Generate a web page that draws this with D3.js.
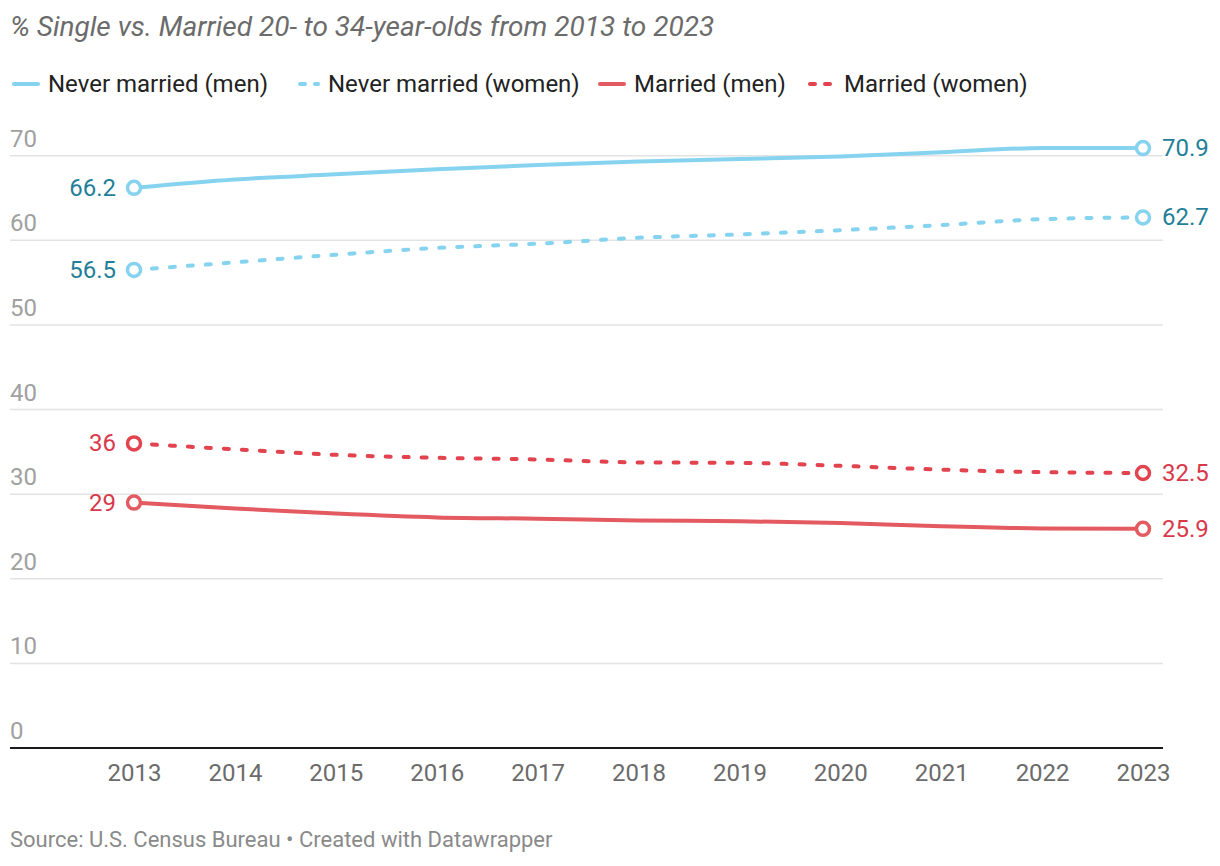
<!DOCTYPE html>
<html>
<head>
<meta charset="utf-8">
<script src="https://cdn.jsdelivr.net/npm/d3@7"></script>
<style>
  body { margin: 0; background: #fff; font-family: Roboto, "Noto Sans", sans-serif; }
</style>
</head>
<body>
<div id="wrapper"></div>
<script>
const years = [2013, 2014, 2015, 2016, 2017, 2018, 2019, 2020, 2021, 2022, 2023];
const neverMarriedMen = [66.2, 67.2, 67.8, 68.4, 68.9, 69.3, 69.6, 69.9, 70.4, 70.9, 70.9];
const neverMarriedWomen = [56.5, 57.4, 58.3, 59.1, 59.6, 60.3, 60.7, 61.2, 61.8, 62.5, 62.7];
const marriedMen = [29, 28.3, 27.7, 27.25, 27.1, 26.9, 26.8, 26.6, 26.2, 25.95, 25.9];
const marriedWomen = [36, 35.3, 34.65, 34.3, 34.1, 33.75, 33.7, 33.35, 32.9, 32.6, 32.5];
const yTicks = [0, 10, 20, 30, 40, 50, 60, 70];

const series = [
    { name: "Never married (men)", values: neverMarriedMen, color: "#86d3f0", label: "#1f7f98", dashed: false },
    { name: "Never married (women)", values: neverMarriedWomen, color: "#86d3f0", label: "#1f7f98", dashed: true },
    { name: "Married (men)", values: marriedMen, color: "#e35a60", label: "#d8394a", dashed: false },
    { name: "Married (women)", values: marriedWomen, color: "#e2434f", label: "#d8394a", dashed: true },
];

const width = 1220;
const height = 866;
const left = 10;
const right = 1163;

const svg = d3.select("#wrapper")
    .append("svg")
    .attr("width", width)
    .attr("height", height);

// title
svg.append("text")
    .attr("x", 10)
    .attr("y", 36)
    .text("% Single vs. Married 20- to 34-year-olds from 2013 to 2023")
    .attr("font-size", "28px")
    .attr("font-style", "italic")
    .attr("fill", "#6b6b6b");

// legend
const legendItems = [
    { x: 12, w: 28 },
    { x: 298, w: 22 },
    { x: 598, w: 28 },
    { x: 808, w: 28 },
];
series.forEach((s, i) => {
    const li = legendItems[i];
    const g = svg.append("g");
    g.append("line")
        .attr("x1", li.x + 2)
        .attr("x2", li.x + li.w - 2)
        .attr("y1", 84)
        .attr("y2", 84)
        .attr("stroke", s.color)
        .attr("stroke-width", 4)
        .attr("stroke-linecap", "round")
        .attr("stroke-dasharray", s.dashed ? "5 10" : null);
    g.append("text")
        .attr("x", li.x + li.w + 8)
        .attr("y", 92)
        .text(s.name)
        .attr("font-size", "24px")
        .attr("fill", "#222");
});

const xScaler = d3.scaleLinear()
    .domain([2013, 2023])
    .range([134, 1143]);

const yScaler = d3.scaleLinear()
    .domain([0, 70])
    .range([748, 155.7]);

// gridlines + y labels
const grid = svg.append("g");
grid.selectAll("line")
    .data(yTicks.filter(d => d > 0))
    .enter()
    .append("line")
    .attr("x1", left)
    .attr("x2", right)
    .attr("y1", d => yScaler(d))
    .attr("y2", d => yScaler(d))
    .attr("stroke", "#e3e3e3")
    .attr("stroke-width", 1.5);

grid.selectAll("text")
    .data(yTicks)
    .enter()
    .append("text")
    .attr("x", left)
    .attr("y", d => yScaler(d) - 9)
    .text(d => d)
    .attr("font-size", "24px")
    .attr("fill", "#a0a0a0");

// baseline
svg.append("line")
    .attr("x1", left)
    .attr("x2", right)
    .attr("y1", yScaler(0))
    .attr("y2", yScaler(0))
    .attr("stroke", "#1a1a1a")
    .attr("stroke-width", 2);

// x axis
const xAxisGen = d3.axisBottom(xScaler)
    .tickValues(years)
    .tickFormat(d3.format("d"))
    .tickSize(0)
    .tickPadding(16);
const xAxis = svg.append("g")
    .attr("transform", `translate(0,${yScaler(0)})`)
    .call(xAxisGen);
xAxis.select(".domain").remove();
xAxis.selectAll("text")
    .attr("font-family", "Roboto, sans-serif")
    .attr("font-size", "24px")
    .attr("fill", "#6b6b6b");

// lines
const lineGen = d3.line()
    .x((d, i) => xScaler(years[i]))
    .y(d => yScaler(d))
    .curve(d3.curveMonotoneX);

series.forEach(s => {
    const g = svg.append("g");
    g.append("path")
        .datum(s.values)
        .attr("d", lineGen)
        .attr("fill", "none")
        .attr("stroke", s.color)
        .attr("stroke-width", 4)
        .attr("stroke-linecap", "round")
        .attr("stroke-dasharray", s.dashed ? "5 13" : null);

    const ends = [0, s.values.length - 1];
    g.selectAll("circle")
        .data(ends)
        .enter()
        .append("circle")
        .attr("cx", i => xScaler(years[i]))
        .attr("cy", i => yScaler(s.values[i]))
        .attr("r", 6.5)
        .attr("fill", "#fff")
        .attr("stroke", s.color)
        .attr("stroke-width", 3.5);

    g.append("text")
        .attr("x", xScaler(years[0]) - 18)
        .attr("y", yScaler(s.values[0]) + 8)
        .attr("text-anchor", "end")
        .text(s.values[0])
        .attr("font-size", "24px")
        .attr("fill", s.label);

    g.append("text")
        .attr("x", xScaler(years[years.length - 1]) + 19)
        .attr("y", yScaler(s.values[s.values.length - 1]) + 8)
        .text(s.values[s.values.length - 1])
        .attr("font-size", "24px")
        .attr("fill", s.label);
});

// source
svg.append("text")
    .attr("x", 10)
    .attr("y", 847)
    .text("Source: U.S. Census Bureau • Created with Datawrapper")
    .attr("font-size", "22px")
    .attr("fill", "#8a8a8a");
</script>
</body>
</html>
